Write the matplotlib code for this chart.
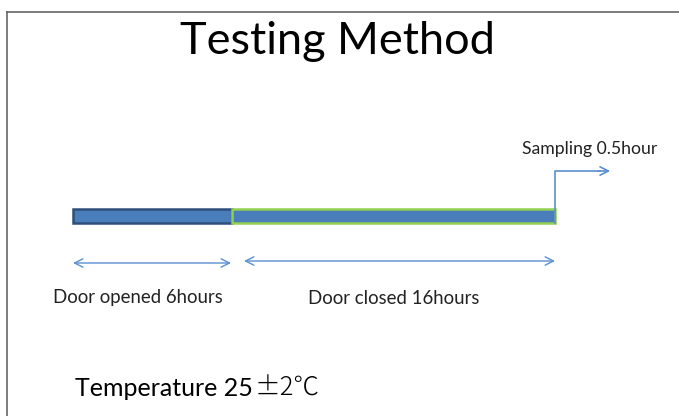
import matplotlib.pyplot as plt
from matplotlib.patches import Rectangle, FancyArrowPatch

# schematic, values only used as labels
title = "Testing Method"
phases = ["Door opened", "Door closed"]
phase_hours = [6, 16]
sampling_hours = 0.5
temp_main = "Temperature 25"
temp_tol = "\u00b12\u2103"

# schematic layout in pixel coords (bar not drawn to scale in original)
bar_x = [73, 232, 555]
bar_y = 209
bar_h = 14
fills = ["#4a7ebb", "#4a7ebb"]
edges = ["#2f4f7a", "#92d050"]

fig = plt.figure(figsize=(6.79, 4.16), dpi=100)
ax = fig.add_axes([0, 0, 1, 1])
ax.set_xlim(0, 679)
ax.set_ylim(416, 0)
ax.axis("off")

# slide frame
ax.plot([6.5, 679], [11.5, 11.5], color="#666666", lw=1.2)
ax.plot([6.5, 6.5], [11.5, 416], color="#666666", lw=1.2)

ax.text(337, 41, title, ha="center", va="center", fontsize=32.5, family="Lato", color="black")

for i in range(len(phases)):
    ax.add_patch(Rectangle((bar_x[i], bar_y), bar_x[i + 1] - bar_x[i], bar_h,
                           facecolor=fills[i], edgecolor=edges[i], lw=1.8))

# sampling step line
line_c = "#5b8fd0"
ax.plot([bar_x[2], bar_x[2], 600], [bar_y + bar_h, 171, 171], color=line_c, lw=1.2)
ax.add_patch(FancyArrowPatch((595, 171), (613, 171), arrowstyle="->,head_length=6,head_width=3",
                             color=line_c, lw=1.2, mutation_scale=1))
ax.text(590, 149, "Sampling %shour" % sampling_hours, ha="center", va="center",
        fontsize=12.7, family="Lato", color="#222222")

# duration arrows
arr_y = [263, 261]
arr_x = [(73, 231), (244, 555)]
lab_x = [138, 394]
for i in range(len(phases)):
    ax.add_patch(FancyArrowPatch((arr_x[i][0], arr_y[i]), (arr_x[i][1], arr_y[i]),
                                 arrowstyle="<->,head_length=6,head_width=3",
                                 color=line_c, lw=1.0, mutation_scale=1,
                                 shrinkA=0, shrinkB=0))
    ax.text(lab_x[i], 298, "%s %dhours" % (phases[i], phase_hours[i]), ha="center", va="center",
            fontsize=13.4, family="Lato", color="#222222")

ax.text(75, 396, temp_main, ha="left", va="baseline", fontsize=18,
        family="Lato", color="black")
ax.text(255, 396, temp_tol, ha="left", va="baseline", fontsize=18.5,
        family=["Noto Sans CJK JP", "DejaVu Sans"], color="black", fontweight="light")

fig.savefig("out.png", dpi=100)
